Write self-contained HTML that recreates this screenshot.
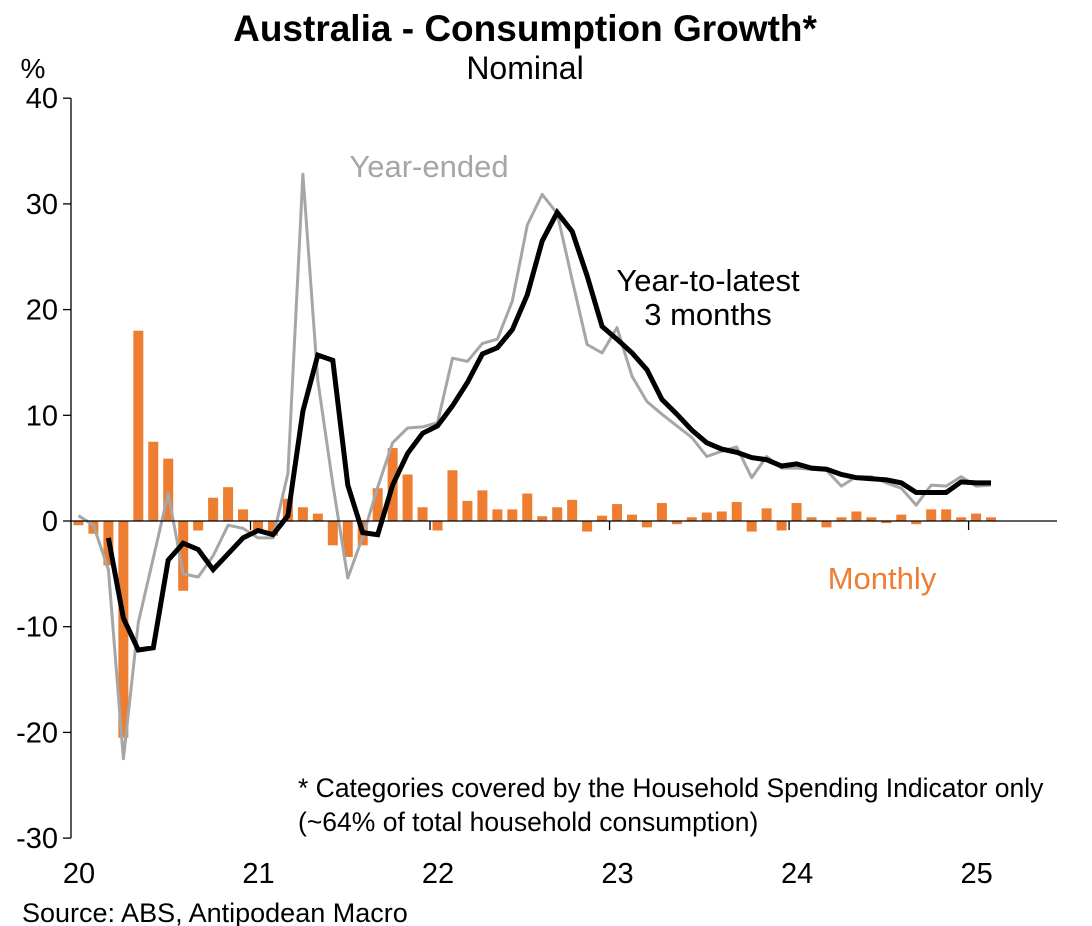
<!DOCTYPE html>
<html><head><meta charset="utf-8"><style>
html,body{margin:0;padding:0;background:#fff;}
svg{display:block;font-family:"Liberation Sans",Arial,sans-serif;}
</style></head><body>
<svg id="chart" width="1092" height="926" viewBox="0 0 1092 926">
<text x="525" y="41" font-size="37" font-weight="bold" text-anchor="middle">Australia - Consumption Growth*</text>
<text x="525" y="79" font-size="32" text-anchor="middle">Nominal</text>
<text x="33" y="78" font-size="28" text-anchor="middle">%</text>
<g id="grid"></g>
<g id="bars"></g>
<g id="lines"></g>
<g id="axes"></g>
<text x="429" y="177" font-size="31" fill="#A6A6A6" text-anchor="middle">Year-ended</text>
<text x="708" y="291" font-size="31" text-anchor="middle">Year-to-latest</text>
<text x="708" y="325" font-size="31" text-anchor="middle">3 months</text>
<text x="882" y="589" font-size="31" fill="#ED7D31" text-anchor="middle">Monthly</text>
<text x="298" y="797" font-size="26.5">* Categories covered by the Household Spending Indicator only</text>
<text x="298" y="831" font-size="26.5">(~64% of total household consumption)</text>
<text x="22" y="922" font-size="27">Source: ABS, Antipodean Macro</text>
</svg>
<script>
// Months from Jan 2020 (index 0) to Feb 2025 (index 61)
const yTicks = [40, 30, 20, 10, 0, -10, -20, -30];
const yTickLabels = ["40", "30", "20", "10", "0", "-10", "-20", "-30"];
const yearLabels = ["20", "21", "22", "23", "24", "25"];
const monthly = [
 -0.4,-1.2,-4.2,-20.5,18.0,7.5,5.9,-6.6,-0.9,2.2,3.2,1.1,
 -1.0,-1.4,2.1,1.3,0.7,-2.3,-3.4,-2.3,3.1,6.9,4.4,1.3,
 -0.9,4.8,1.9,2.9,1.1,1.1,2.6,0.45,1.3,2.0,-1.0,0.5,
 1.6,0.6,-0.6,1.7,-0.3,0.35,0.8,0.9,1.8,-1.0,1.2,-0.9,
 1.7,0.35,-0.6,0.35,0.9,0.35,-0.2,0.6,-0.3,1.1,1.1,0.35,
 0.7,0.35];
const yearEnded = [
 0.5,-0.4,-4.6,-22.5,-9.6,-3.5,2.6,-5.0,-5.3,-3.3,-0.4,-0.7,
 -1.6,-1.6,4.5,32.8,13.3,3.5,-5.4,-1.5,3.2,7.4,8.8,8.9,
 9.3,15.4,15.1,16.8,17.2,20.8,28.0,30.9,29.1,22.8,16.7,15.9,
 18.3,13.7,11.3,10.1,9.0,7.9,6.1,6.6,7.0,4.1,6.1,5.0,
 5.0,4.9,4.8,3.3,4.2,4.2,3.6,3.1,1.5,3.4,3.3,4.2,
 3.3,3.4];
const threeMonth = [
 null,null,-1.6,-9.2,-12.2,-12.0,-3.7,-2.1,-2.7,-4.6,-3.1,-1.6,
 -0.9,-1.3,0.5,10.4,15.7,15.2,3.4,-1.1,-1.3,3.4,6.4,8.3,
 9.0,10.9,13.1,15.8,16.4,18.1,21.4,26.5,29.2,27.4,23.2,18.4,
 17.2,15.9,14.3,11.5,10.1,8.6,7.4,6.8,6.5,6.0,5.8,5.2,
 5.4,5.0,4.9,4.4,4.1,4.0,3.9,3.6,2.7,2.7,2.7,3.7,
 3.6,3.6];

const NS = "http://www.w3.org/2000/svg";
const X0 = 71, MW = 14.96, XEND = 1057;
function xm(i){ return X0 + MW*(i+0.5); }
function xb(i){ return X0 + MW*i; }
function yv(v){ return 521 - v*10.57; }
function mk(tag, attrs, parent){
  const e = document.createElementNS(NS, tag);
  for (const k in attrs) e.setAttribute(k, attrs[k]);
  parent.appendChild(e); return e;
}
const axes = document.getElementById("axes");
const bars = document.getElementById("bars");
const lines = document.getElementById("lines");

const yAxis = mk("line", {x1:X0, y1:yv(40), x2:X0, y2:yv(-30), stroke:"#000", "stroke-width":1.3}, axes);


yTicks.forEach((t, k) => {
  const tk = mk("line", {x1:X0-8, y1:yv(t), x2:X0, y2:yv(t), stroke:"#000", "stroke-width":1.3}, axes);
  
  
  const lb = mk("text", {x:58, y:yv(t)+10, "font-size":29, "text-anchor":"end"}, axes);
  lb.textContent = yTickLabels[k];
  
  
});
const xAxis = mk("line", {x1:X0, y1:yv(0), x2:XEND, y2:yv(0), stroke:"#000", "stroke-width":1.3}, axes);


yearLabels.forEach((lab, k) => {
  const xx = xb(k*12);
  if (k > 0) {
    const tk = mk("line", {x1:xx, y1:yv(0), x2:xx, y2:yv(0)+9, stroke:"#000", "stroke-width":1.3}, axes);
    
    
  }
  const lb = mk("text", {x:xx+8, y:883, "font-size":29, "text-anchor":"middle"}, axes);
  lb.textContent = lab;
  
  
});
monthly.forEach((v, i) => {
  const y0 = yv(0), y1 = yv(v);
  const r = mk("rect", {x:xm(i)-5, y:Math.min(y0,y1), width:10, height:Math.abs(y1-y0), fill:"#ED7D31"}, bars);
  
  
});
function linePath(arr){
  let d = "", started = false;
  arr.forEach((v, i) => {
    if (v === null) return;
    d += (started ? "L" : "M") + xm(i).toFixed(1) + "," + yv(v).toFixed(1);
    started = true;
  });
  return d;
}
const ye = mk("path", {d:linePath(yearEnded), fill:"none", stroke:"#A6A6A6", "stroke-width":3, "stroke-linejoin":"round"}, lines);


const tm = mk("path", {d:linePath(threeMonth), fill:"none", stroke:"#000", "stroke-width":5, "stroke-linejoin":"miter"}, lines);


</script>
</body></html>
